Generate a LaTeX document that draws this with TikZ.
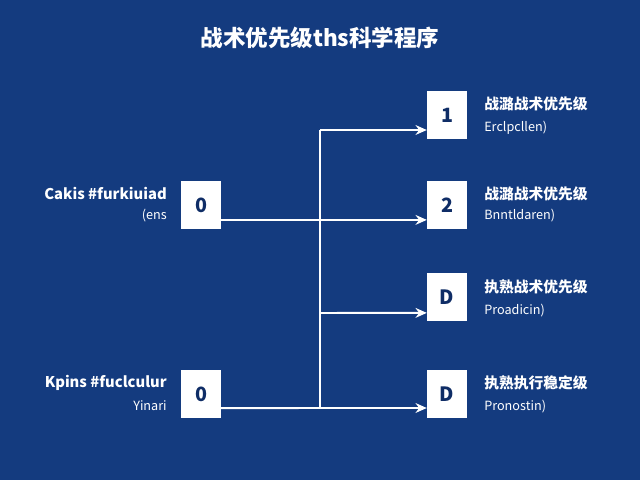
\documentclass[tikz,border=0pt]{standalone}
\usepackage{fontspec}
\setmainfont{Noto Sans CJK SC}
\usetikzlibrary{positioning, arrows.meta}
\definecolor{bgblue}{HTML}{143B7F}
\definecolor{boxtext}{HTML}{0F2D66}
\tikzset{
    box/.style = {draw=none, fill=white, minimum width=40*0.709pt, minimum height=48*0.709pt, inner sep=0pt, font=\fontsize{14}{14}\selectfont\bfseries, text=boxtext},
    mainlbl/.style = {text=white, font=\fontsize{10.5}{12}\selectfont\bfseries, inner sep=0pt},
    sublbl/.style = {text=white, font=\fontsize{9}{10}\selectfont, inner sep=0pt},
    link/.style = {white, line width=1.4pt},
    arr/.style = {link, -{Stealth[length=8pt, width=7pt]}}
}
\begin{document}
\begin{tikzpicture}[x=0.025cm, y=-0.025cm]
    \fill[bgblue] (0,0) rectangle (640,480);
    \useasboundingbox (0,0) rectangle (640,480);
    \node[text=white, font=\fontsize{16}{18}\selectfont\bfseries] (title) at (320,38) {战术优先级ths科学程序};
    % left side
    \node[box] (S1) at (201,205) {0};
    \node[box] (S2) at (201,394) {0};
    \node[mainlbl, anchor=east] (S1a) at (167,193) {Cakis \#furkiuiad};
    \node[sublbl, anchor=east] (S1b) at (167,216) {(ens};
    \node[mainlbl, anchor=east] (S2a) at (167,383) {Kpins \#fuclculur};
    \node[sublbl, anchor=east] (S2b) at (167,406) {Yinari};
    % right side
    \node[box] (T1) at (447,115) {1};
    \node[box] (T2) at (447,205) {2};
    \node[box] (T3) at (447,297) {D};
    \node[box] (T4) at (447,394) {D};
    \node[mainlbl, anchor=west] (T1a) at (484,104) {战潞战术优先级};
    \node[sublbl, anchor=west] (T1b) at (484,128) {Erclpcllen)};
    \node[mainlbl, anchor=west] (T2a) at (484,194) {战潞战术优先级};
    \node[sublbl, anchor=west] (T2b) at (484,216) {Bnntldaren)};
    \node[mainlbl, anchor=west] (T3a) at (484,287) {执熟战术优先级};
    \node[sublbl, anchor=west] (T3b) at (484,311) {Proadicin)};
    \node[mainlbl, anchor=west] (T4a) at (484,383) {执熟执行稳定级};
    \node[sublbl, anchor=west] (T4b) at (484,407) {Pronostin)};
    % connectors
    \coordinate (top) at (320,130);
    \coordinate (bot) at (320,408);
    \draw[link] ([yshift=-10.6pt]S1.east) -- (S1.east |- 320,220);
    \draw[link] ([yshift=-10pt]S2.east) -- (bot);
    \draw[link] (top) -- (bot);
    \draw[arr] (top) -- (top -| T1.west);
    \draw[arr] ([yshift=-10.6pt]S1.east) -- ([yshift=-10.6pt]T2.west);
    \draw[arr] (320,313) -- ([yshift=-11.3pt]T3.west);
    \draw[arr] (bot) -- (bot -| T4.west);
\end{tikzpicture}
\end{document}
